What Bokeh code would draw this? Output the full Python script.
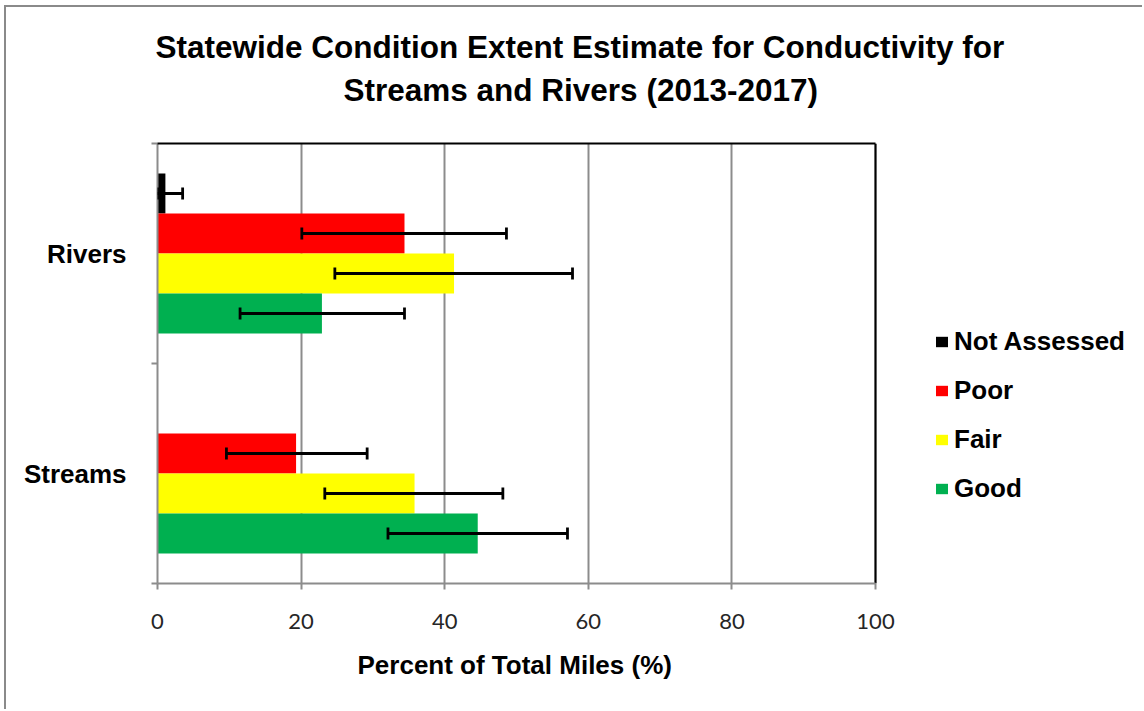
from bokeh.plotting import figure
from bokeh.models import (ColumnDataSource, Range1d, FixedTicker, Whisker, TeeHead,
                          Title, Legend, LegendItem, Span)
from bokeh.embed import file_html
from bokeh.resources import INLINE

# ---- data ----
categories = ["Rivers", "Streams"]
conditions = ["Not Assessed", "Poor", "Fair", "Good"]
colors = ["#000000", "#FF0000", "#FFFF00", "#00B050"]

rivers_pct = [1.1, 34.4, 41.3, 22.9]
rivers_lo = [0.0, 20.1, 24.7, 11.5]
rivers_hi = [3.5, 48.6, 57.8, 34.4]

streams_pct = [None, 19.3, 35.8, 44.6]
streams_lo = [None, 9.6, 23.3, 32.1]
streams_hi = [None, 29.2, 48.1, 57.1]

x_ticks = [0, 20, 40, 60, 80, 100]
x_max = 100

# ---- layout helpers ----
cat_center = {"Rivers": 1.5, "Streams": 0.5}
bar_h = 40 / 220
offsets = [1.5 * bar_h, 0.5 * bar_h, -0.5 * bar_h, -1.5 * bar_h]

W, H = 1138, 704
LEFT = 151
PLOT_PX = 718  # pixel width of the 0..100 plotting area
# frame is extended to the right canvas edge so the legend can live in it
x_end = x_max * (W - LEFT) / PLOT_PX

p = figure(width=W, height=H, output_backend="svg", toolbar_location=None,
           x_range=Range1d(0, x_end), y_range=Range1d(0, 2), title=None,
           min_border_left=LEFT, min_border_right=0, min_border_top=136,
           min_border_bottom=128)
p.styles = {"border-left": "2px solid #8a8a8a", "border-top": "2px solid #8a8a8a",
            "margin-left": "4px", "margin-top": "5px"}
p.background_fill_color = "white"
p.border_fill_color = "white"
p.outline_line_color = None

per_cat = {
    "Rivers": (rivers_pct, rivers_lo, rivers_hi),
    "Streams": (streams_pct, streams_lo, streams_hi),
}

legend_items = []
whisk = {"y": [], "lo": [], "hi": []}
for i, cond in enumerate(conditions):
    ys, vals = [], []
    for cat in categories:
        pct, lo, hi = per_cat[cat]
        if pct[i] is None:
            continue
        y = cat_center[cat] + offsets[i]
        ys.append(y)
        vals.append(pct[i])
        whisk["y"].append(y)
        whisk["lo"].append(lo[i])
        whisk["hi"].append(hi[i])
    src = ColumnDataSource(dict(y=ys, right=vals))
    r = p.hbar(y="y", left=0, right="right", height=bar_h, source=src,
               fill_color=colors[i], line_color=None)
    legend_items.append(LegendItem(label=cond, renderers=[r]))

wsrc = ColumnDataSource(whisk)
w = Whisker(source=wsrc, base="y", lower="lo", upper="hi", dimension="width",
            line_color="black", line_width=2.8, level="overlay",
            upper_head=TeeHead(size=12, line_color="black", line_width=2.8),
            lower_head=TeeHead(size=12, line_color="black", line_width=2.8))
p.add_layout(w)

# plot-area borders: black top/right, gray bottom (axis line)
p.add_layout(Span(location=x_max, dimension="height", line_color="black", line_width=2))
p.segment(x0=[0], y0=[2], x1=[x_max], y1=[2], line_color="black", line_width=2,
          level="overlay")
p.segment(x0=[0], y0=[0], x1=[x_max], y1=[0], line_color="#8c8c8c", line_width=2,
          level="overlay")

# grid
p.ygrid.visible = False
p.xgrid.ticker = FixedTicker(ticks=x_ticks)
p.xgrid.grid_line_color = "#8c8c8c"
p.xgrid.grid_line_width = 2

# x axis
xa = p.xaxis[0]
xa.ticker = FixedTicker(ticks=x_ticks)
xa.axis_line_color = None
xa.major_tick_line_color = "#8c8c8c"
xa.major_tick_line_width = 2
xa.major_tick_out = 6
xa.major_tick_in = 0
xa.minor_tick_line_color = None
xa.major_label_text_font = "Lato"
xa.major_label_text_font_size = "22px"
xa.major_label_text_color = "#262626"
xa.major_label_standoff = 24

# x axis title as a Title below (centred on the 0..100 area)
xt = Title(text="Percent of Total Miles (%)", align="left", offset=200,
           text_font="Liberation Sans", text_font_style="bold",
           text_font_size="26px", text_color="black", standoff=32)
p.add_layout(xt, "below")

# y axis
ya = p.yaxis[0]
ya.ticker = FixedTicker(ticks=[0.5, 1.5], minor_ticks=[0, 1, 2])
ya.major_label_overrides = {0.5: categories[1], 1.5: categories[0]}
ya.axis_line_color = "#8c8c8c"
ya.axis_line_width = 2
ya.major_tick_line_color = None
ya.major_tick_out = 0
ya.major_tick_in = 0
ya.minor_tick_line_color = "#8c8c8c"
ya.minor_tick_line_width = 2
ya.minor_tick_out = 6
ya.minor_tick_in = 0
ya.major_label_text_font = "Liberation Sans"
ya.major_label_text_font_style = "bold"
ya.major_label_text_font_size = "26px"
ya.major_label_text_color = "black"
ya.major_label_standoff = 25

# titles (closest to frame added first)
t2 = Title(text="Streams and Rivers (2013-2017)", align="left", offset=186,
           text_font="Liberation Sans", text_font_style="bold",
           text_font_size="31.5px", text_color="black", standoff=71)
t1 = Title(text="Statewide Condition Extent Estimate for Conductivity for",
           align="left", offset=-2,
           text_font="Liberation Sans", text_font_style="bold",
           text_font_size="31.5px", text_color="black", standoff=-61)
p.add_layout(t2, "above")
p.add_layout(t1, "above")

legend = Legend(items=legend_items, location=(777, 70), orientation="vertical",
                label_text_font="Liberation Sans", label_text_font_style="bold",
                label_text_font_size="26px", label_text_color="black",
                glyph_width=15, glyph_height=13, label_standoff=5,
                label_height=49, spacing=0, padding=0, margin=0,
                border_line_color=None, background_fill_alpha=0)
p.add_layout(legend, "center")

open("out.html", "w").write(file_html(p, INLINE))
